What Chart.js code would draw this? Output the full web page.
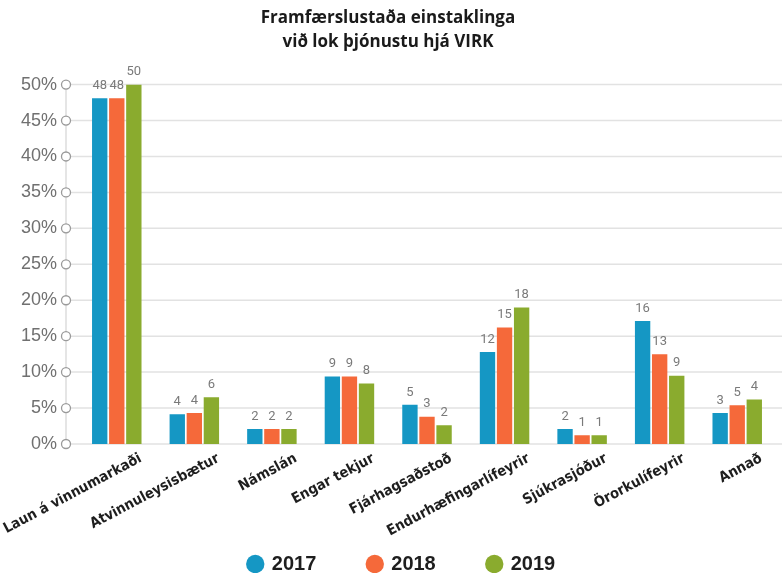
<!DOCTYPE html>
<html>
<head>
<meta charset="utf-8">
<script src="https://cdn.jsdelivr.net/npm/chart.js@4.4.1/dist/chart.umd.min.js"></script>
<style>
  html, body { margin: 0; padding: 0; background: #fff; }
  #wrap { width: 782px; height: 573px; }
</style>
</head>
<body>
<div id="wrap"><canvas id="chart"></canvas></div>
<script>
var categories = ['Laun á vinnumarkaði', 'Atvinnuleysisbætur', 'Námslán', 'Engar tekjur',
    'Fjárhagsaðstoð', 'Endurhæfingarlífeyrir', 'Sjúkrasjóður', 'Örorkulífeyrir', 'Annað'];
var years = ['2017', '2018', '2019'];

// bar heights as drawn in the picture (%)
var values2017 = [48.1, 4.15, 2.1, 9.4, 5.45, 12.8, 2.1, 17.1, 4.3];
var values2018 = [48.1, 4.3, 2.1, 9.4, 3.8, 16.2, 1.2, 12.5, 5.4];
var values2019 = [50, 6.5, 2.1, 8.4, 2.6, 19.0, 1.2, 9.5, 6.2];

// numbers printed above the bars
var labels2017 = [48, 4, 2, 9, 5, 12, 2, 16, 3];
var labels2018 = [48, 4, 2, 9, 3, 15, 1, 13, 5];
var labels2019 = [50, 6, 2, 8, 2, 18, 1, 9, 4];

var yTicks = [0, 5, 10, 15, 20, 25, 30, 35, 40, 45, 50];

var colors = ['#1597c4', '#f5693a', '#8aab2e'];
var barLabels = [labels2017, labels2018, labels2019];

var gridPlugin = {
    id: 'gridPlugin',
    afterLayout: function (chart) {
        // legend needs the left padding to sit where it does, the title does not
        if (chart.titleBlock) {
            chart.titleBlock.left -= 14;
            chart.titleBlock.right -= 14;
        }
    },
    beforeDatasetsDraw: function (chart) {
        var ctx = chart.ctx, y = chart.scales.y, left = chart.chartArea.left;
        var axisX = left - 12;
        ctx.save();
        ctx.strokeStyle = '#e2e2e2';
        ctx.lineWidth = 1.5;
        for (var i = 0; i < yTicks.length; i++) {
            var py = y.getPixelForValue(yTicks[i]);
            ctx.beginPath();
            ctx.moveTo(axisX + 5, py);
            ctx.lineTo(chart.width, py);
            ctx.stroke();
        }
        ctx.strokeStyle = '#dcdcdc';
        ctx.beginPath();
        ctx.moveTo(axisX, y.getPixelForValue(50));
        ctx.lineTo(axisX, y.getPixelForValue(0));
        ctx.stroke();
        ctx.strokeStyle = '#9a9a9a';
        ctx.lineWidth = 1.3;
        ctx.fillStyle = '#fff';
        for (var j = 0; j < yTicks.length; j++) {
            ctx.beginPath();
            ctx.arc(axisX, y.getPixelForValue(yTicks[j]), 4.5, 0, Math.PI * 2);
            ctx.fill();
            ctx.stroke();
        }
        ctx.restore();
    },
    afterDatasetsDraw: function (chart) {
        var ctx = chart.ctx;
        ctx.save();
        ctx.font = '13px Roboto';
        ctx.fillStyle = '#7a7a7a';
        ctx.textAlign = 'center';
        ctx.textBaseline = 'bottom';
        chart.data.datasets.forEach(function (ds, i) {
            chart.getDatasetMeta(i).data.forEach(function (bar, k) {
                ctx.fillText(String(barLabels[i][k]), bar.x, bar.y - 6);
            });
        });
        ctx.restore();
    }
};

function noLabelClip(scale) {
    scale._computeLabelArea = function () { return undefined; };
}

new Chart(document.getElementById('chart'), {
    type: 'bar',
    data: {
        labels: categories,
        datasets: [
            { label: years[0], data: values2017, backgroundColor: colors[0] },
            { label: years[1], data: values2018, backgroundColor: colors[1] },
            { label: years[2], data: values2019, backgroundColor: colors[2] }
        ]
    },
    options: {
        responsive: true,
        maintainAspectRatio: false,
        animation: false,
        categoryPercentage: 0.66,
        barPercentage: 0.9,
        layout: { padding: { left: 28, right: 6, top: 0, bottom: -11 } },
        scales: {
            x: {
                grid: { display: false, drawTicks: false },
                border: { display: false },
                afterFit: function (scale) {
                    scale.height = 58;
                    scale.paddingLeft = 0;
                    scale.paddingRight = 0;
                    noLabelClip(scale);
                },
                ticks: {
                    maxRotation: 28,
                    minRotation: 28,
                    autoSkip: false,
                    labelOffset: 24,
                    padding: 6,
                    color: '#1e1e1e',
                    font: { family: "'Liberation Sans Narrow', 'DejaVu Sans Condensed', sans-serif", size: 14.5, weight: 'bold' }
                }
            },
            y: {
                min: 0,
                max: 50,
                grid: { display: false, drawTicks: false },
                border: { display: false },
                afterFit: function (scale) {
                    scale.width = 50;
                    scale.paddingTop = 0;
                    scale.paddingBottom = 0;
                    noLabelClip(scale);
                },
                ticks: {
                    stepSize: 5,
                    padding: 21,
                    color: '#707070',
                    font: { family: "'Liberation Sans', sans-serif", size: 18 },
                    callback: function (v) { return v + '%'; }
                }
            }
        },
        plugins: {
            title: {
                display: true,
                text: ['Framfærslustaða einstaklinga', 'við lok þjónustu hjá VIRK'],
                color: '#1a1a1a',
                font: { family: "'Open Sans', sans-serif", size: 17, weight: 'bold', lineHeight: 1.4 },
                padding: { top: 6, bottom: 31 }
            },
            legend: {
                position: 'bottom',
                labels: {
                    usePointStyle: true,
                    pointStyle: 'circle',
                    boxWidth: 13,
                    boxHeight: 13,
                    padding: 52,
                    color: '#1e1e1e',
                    font: { family: "'Liberation Sans', sans-serif", size: 20, weight: 'bold' }
                }
            },
            tooltip: { enabled: false }
        }
    },
    plugins: [gridPlugin]
});
</script>
</body>
</html>
